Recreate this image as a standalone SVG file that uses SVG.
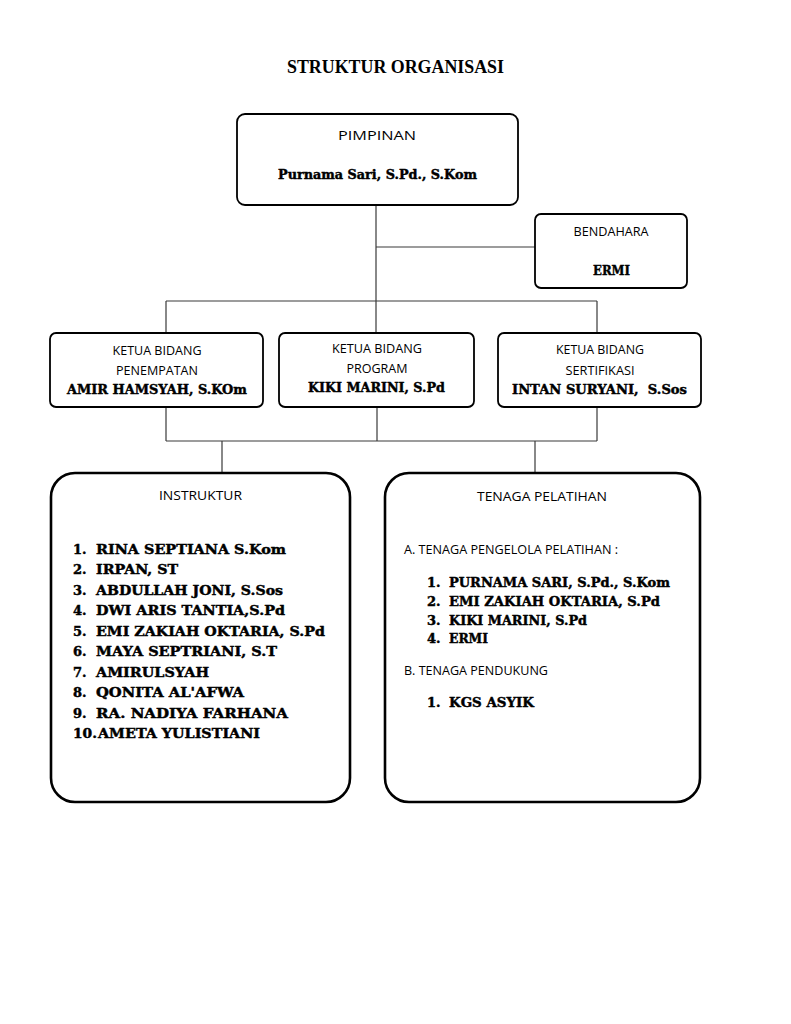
<svg xmlns="http://www.w3.org/2000/svg" width="791" height="1024" viewBox="0 0 791 1024">
<style>
.bx{fill:#fff;stroke:#000;stroke-width:1.8}
.big{fill:#fff;stroke:#000;stroke-width:2.6}
.ln{stroke:#3a3a3a;stroke-width:1.2;fill:none}
.sans{font-family:"Open Sans","Noto Sans","Liberation Sans",sans-serif;font-size:12.6px;fill:#000}
.hv{font-family:"DejaVu Serif","Liberation Serif",serif;font-weight:bold;font-size:13px;fill:#000;stroke:#000;stroke-width:0.45}
.title{font-family:"Liberation Serif","Times New Roman",serif;font-weight:bold;font-size:18px;fill:#000}
</style>
<rect width="791" height="1024" fill="#fff"/>
<text class="title" x="287" y="73" textLength="217" lengthAdjust="spacingAndGlyphs">STRUKTUR ORGANISASI</text>
<g id="connectors">
<path class="ln" d="M376 205 V333 M376 247 H535 M166 301 H597 M166 301 V333 M597 301 V333"/>
<path class="ln" d="M166 407 V441 M377 407 V441 M597 407 V441 M166 441 H597 M222 441 V473 M535 441 V473"/>
</g>
<g id="pimpinan">
<rect class="bx" x="237" y="114" width="281" height="91" rx="8"/>
<text class="sans" x="377" y="140" text-anchor="middle" font-size="15" textLength="78" lengthAdjust="spacingAndGlyphs">PIMPINAN</text>
<text class="hv" x="278" y="179" textLength="199" lengthAdjust="spacingAndGlyphs">Purnama Sari, S.Pd., S.Kom</text>
</g>
<g id="bendahara">
<rect class="bx" x="535" y="214" width="152" height="74" rx="6"/>
<text class="sans" x="611" y="236" text-anchor="middle" textLength="75" lengthAdjust="spacingAndGlyphs">BENDAHARA</text>
<text class="hv" x="593" y="275" textLength="37" lengthAdjust="spacingAndGlyphs">ERMI</text>
</g>
<g id="ketua-penempatan">
<rect class="bx" x="50" y="333" width="213" height="74" rx="6"/>
<text class="sans" x="157" y="355" text-anchor="middle" textLength="89" lengthAdjust="spacingAndGlyphs">KETUA BIDANG</text>
<text class="sans" x="157" y="375" text-anchor="middle" textLength="82" lengthAdjust="spacingAndGlyphs">PENEMPATAN</text>
<text class="hv" x="67" y="394" textLength="180" lengthAdjust="spacingAndGlyphs">AMIR HAMSYAH, S.KOm</text>
</g>
<g id="ketua-program">
<rect class="bx" x="279" y="333" width="195" height="74" rx="6"/>
<text class="sans" x="377" y="353" text-anchor="middle" textLength="90" lengthAdjust="spacingAndGlyphs">KETUA BIDANG</text>
<text class="sans" x="377" y="373" text-anchor="middle" textLength="61" lengthAdjust="spacingAndGlyphs">PROGRAM</text>
<text class="hv" x="308" y="392" textLength="137" lengthAdjust="spacingAndGlyphs">KIKI MARINI, S.Pd</text>
</g>
<g id="ketua-sertifikasi">
<rect class="bx" x="498" y="333" width="203" height="74" rx="6"/>
<text class="sans" x="600" y="354" text-anchor="middle" textLength="88" lengthAdjust="spacingAndGlyphs">KETUA BIDANG</text>
<text class="sans" x="600" y="375" text-anchor="middle" textLength="69" lengthAdjust="spacingAndGlyphs">SERTIFIKASI</text>
<text class="hv" x="512" y="394" textLength="175" lengthAdjust="spacingAndGlyphs" xml:space="preserve">INTAN SURYANI,  S.Sos</text>
</g>
<g id="instruktur">
<rect class="big" x="51" y="473" width="299" height="329" rx="24"/>
<text class="sans" x="200.5" y="500" text-anchor="middle" textLength="83" lengthAdjust="spacingAndGlyphs">INSTRUKTUR</text>
<g class="hv" font-size="14">
<text x="73" y="554">1.</text><text x="96" y="554" textLength="190" lengthAdjust="spacingAndGlyphs">RINA SEPTIANA S.Kom</text>
<text x="73" y="574">2.</text><text x="96" y="574" textLength="82" lengthAdjust="spacingAndGlyphs">IRPAN, ST</text>
<text x="73" y="595">3.</text><text x="96" y="595" textLength="187" lengthAdjust="spacingAndGlyphs">ABDULLAH JONI, S.Sos</text>
<text x="73" y="615">4.</text><text x="96" y="615" textLength="189" lengthAdjust="spacingAndGlyphs">DWI ARIS TANTIA,S.Pd</text>
<text x="73" y="636">5.</text><text x="96" y="636" textLength="229" lengthAdjust="spacingAndGlyphs">EMI ZAKIAH OKTARIA, S.Pd</text>
<text x="73" y="656">6.</text><text x="96" y="656" textLength="181" lengthAdjust="spacingAndGlyphs">MAYA SEPTRIANI, S.T</text>
<text x="73" y="677">7.</text><text x="96" y="677" textLength="113" lengthAdjust="spacingAndGlyphs">AMIRULSYAH</text>
<text x="73" y="697">8.</text><text x="96" y="697" textLength="148" lengthAdjust="spacingAndGlyphs">QONITA AL'AFWA</text>
<text x="73" y="718">9.</text><text x="96" y="718" textLength="192" lengthAdjust="spacingAndGlyphs">RA. NADIYA FARHANA</text>
<text x="73" y="738" textLength="24" lengthAdjust="spacingAndGlyphs">10.</text><text x="98" y="738" textLength="162" lengthAdjust="spacingAndGlyphs">AMETA YULISTIANI</text>
</g>
</g>
<g id="tenaga-pelatihan">
<rect class="big" x="385" y="473" width="315" height="329" rx="24"/>
<text class="sans" x="542" y="501" text-anchor="middle" textLength="130" lengthAdjust="spacingAndGlyphs">TENAGA PELATIHAN</text>
<text class="sans" x="404" y="554" textLength="214" lengthAdjust="spacingAndGlyphs">A. TENAGA PENGELOLA PELATIHAN :</text>
<g class="hv" font-size="13">
<text x="427" y="587">1.</text><text x="449" y="587" textLength="221" lengthAdjust="spacingAndGlyphs">PURNAMA SARI, S.Pd., S.Kom</text>
<text x="427" y="606">2.</text><text x="449" y="606" textLength="211" lengthAdjust="spacingAndGlyphs">EMI ZAKIAH OKTARIA, S.Pd</text>
<text x="427" y="625">3.</text><text x="449" y="625" textLength="138" lengthAdjust="spacingAndGlyphs">KIKI MARINI, S.Pd</text>
<text x="427" y="643">4.</text><text x="449" y="643" textLength="39" lengthAdjust="spacingAndGlyphs">ERMI</text>
</g>
<text class="sans" x="404" y="675" textLength="144" lengthAdjust="spacingAndGlyphs">B. TENAGA PENDUKUNG</text>
<g class="hv" font-size="13">
<text x="427" y="707">1.</text><text x="449" y="707" textLength="85" lengthAdjust="spacingAndGlyphs">KGS ASYIK</text>
</g>
</g>
</svg>
